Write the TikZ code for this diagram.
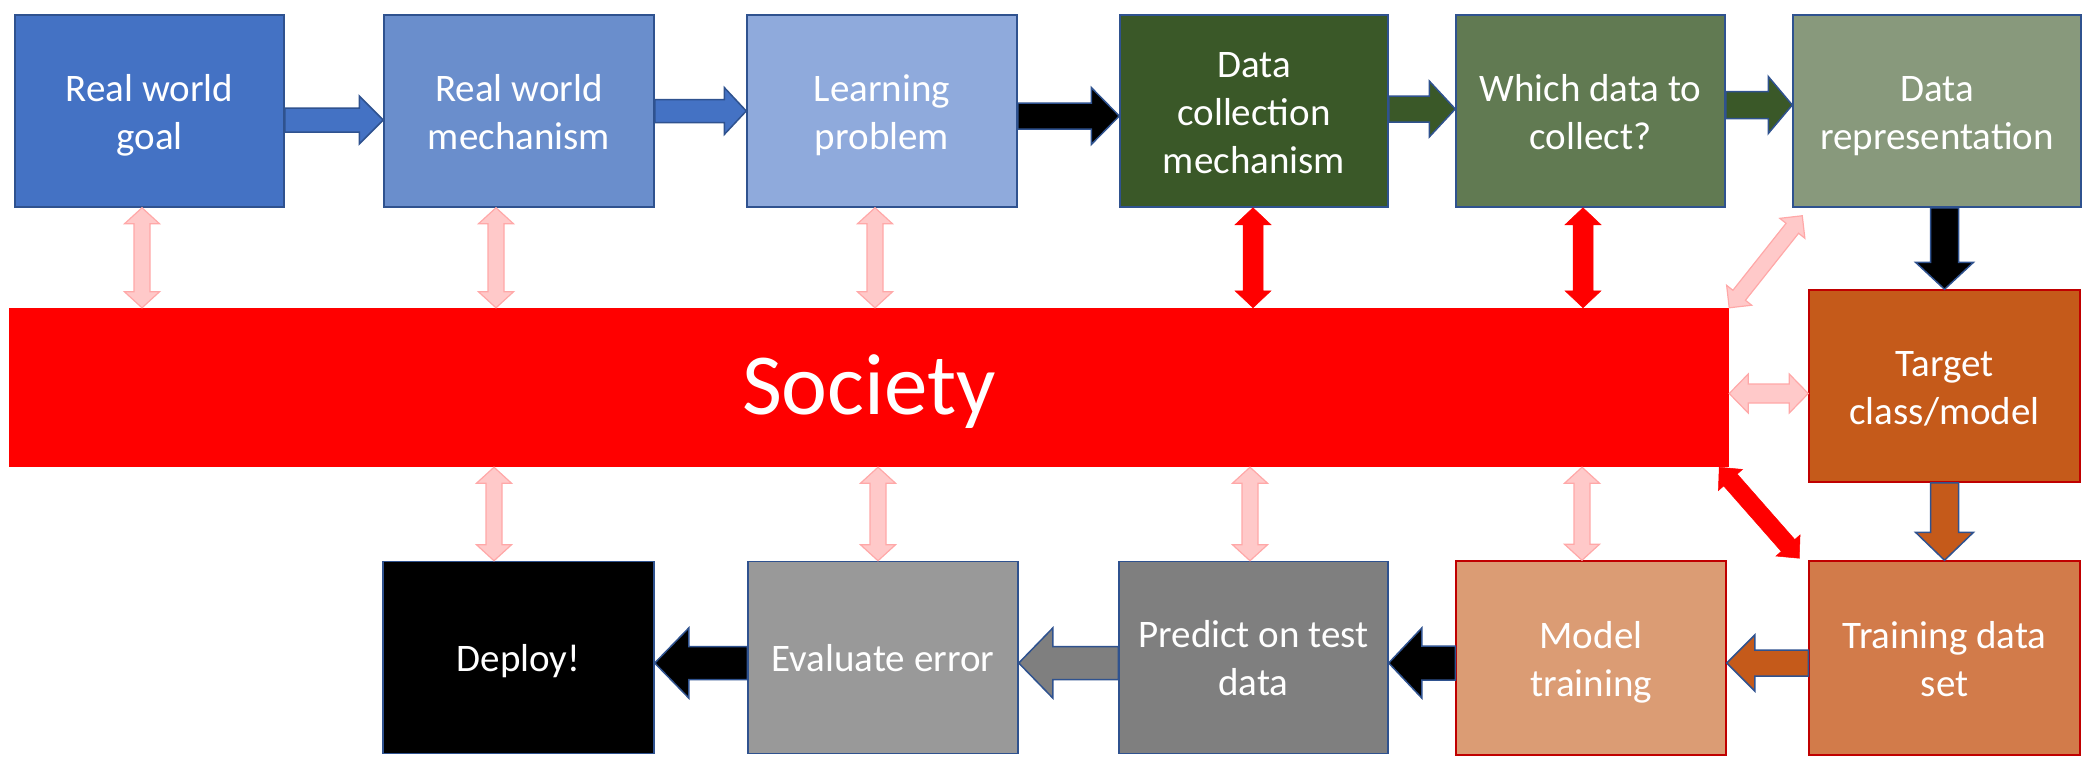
\documentclass[tikz,border=0pt]{standalone}
\usepackage{fontspec}
\setmainfont{Carlito}
\usetikzlibrary{calc}
\definecolor{bblue}{HTML}{2F528F}
\definecolor{bred}{HTML}{C00000}
\definecolor{cA}{HTML}{4472C4}
\definecolor{cB}{HTML}{6A8ECC}
\definecolor{cC}{HTML}{8FAADC}
\definecolor{cD}{HTML}{3A5828}
\definecolor{cE}{HTML}{617A52}
\definecolor{cF}{HTML}{88997C}
\definecolor{cTC}{HTML}{C55A1A}
\definecolor{cTD}{HTML}{D27B4A}
\definecolor{cMT}{HTML}{DB9C74}
\definecolor{cPR}{HTML}{7F7F7F}
\definecolor{cEV}{HTML}{999999}
\definecolor{pinkf}{HTML}{FFC9C9}
\definecolor{pinkd}{HTML}{FFA8A8}
\newcommand\boxfont{\fontsize{39}{48}\selectfont}
\newcommand\ls{\rule[-10pt]{0pt}{48pt}}
\newcommand\blockarr[6]{%
  \coordinate (tH) at ($(#3)!#6!(#2)$);
  \draw[#1] ($(#2)!#4!90:(#3)$) -- ($(tH)!#4!90:(#3)$) -- ($(tH)!#5!90:(#3)$) -- (#3)
    -- ($(tH)!#5!-90:(#3)$) -- ($(tH)!#4!-90:(#3)$) -- ($(#2)!#4!-90:(#3)$) -- cycle;}
\newcommand\dblarr[6]{%
  \coordinate (tA) at ($(#2)!#6!(#3)$);
  \coordinate (tB) at ($(#3)!#6!(#2)$);
  \draw[#1] (#2) -- ($(tA)!#5!90:(#3)$) -- ($(tA)!#4!90:(#3)$) -- ($(tB)!#4!90:(#3)$)
    -- ($(tB)!#5!90:(#3)$) -- (#3) -- ($(tB)!#5!-90:(#3)$) -- ($(tB)!#4!-90:(#3)$)
    -- ($(tA)!#4!-90:(#3)$) -- ($(tA)!#5!-90:(#3)$) -- cycle;}
\tikzset{
  box/.style={draw=bblue, line width=1.5pt, minimum height=192pt, inner sep=0pt,
    align=center, text=white, font=\boxfont},
  obox/.style={box, draw=bred},
  blockstyle/.style={line width=1.5pt, draw=bblue, line join=miter},
  bluearr/.style={blockstyle, fill=cA},
  blackarr/.style={blockstyle, fill=black},
  greenarr/.style={blockstyle, fill=cD},
  brownarr/.style={blockstyle, fill=cTC},
  grayarr/.style={blockstyle, fill=cPR},
  pinkarr/.style={fill=pinkf, draw=pinkd, line width=1.2pt},
  redarr/.style={fill=red, draw=red, line width=0.5pt},
}
\begin{document}
\begin{tikzpicture}[x=1pt, y=-1pt]
\useasboundingbox (0,0) rectangle (2098,764);
% top row
\node[box, fill=cA, minimum width=269pt] (g1) at (149.5,111) {\ls Real world\\\ls goal};
\node[box, fill=cB, minimum width=270pt] (g2) at (519,111) {\ls Real world\\\ls mechanism};
\node[box, fill=cC, minimum width=270pt] (g3) at (882,111) {\ls Learning\\\ls problem};
\node[box, fill=cD, minimum width=268pt] (g4) at (1254,111) {\ls Data\\\ls collection\\\ls mechanism};
\node[box, fill=cE, minimum width=269pt] (g5) at (1590.5,111) {\ls Which data to\\\ls collect?};
\node[box, fill=cF, minimum width=288pt] (g6) at (1937,111) {\ls Data\\\ls representation};
% society
\node[fill=red, minimum width=1720pt, minimum height=159pt, inner sep=0pt, text=white,
  font=\fontsize{87}{100}\selectfont] (soc) at (869,387.5) {\rule[-27pt]{0pt}{107pt}Society};
% right column
\node[obox, fill=cTC, minimum width=271pt] (tc) at (1944.5,386) {\ls Target\\\ls class/model};
\node[obox, fill=cTD, minimum width=271pt, minimum height=194pt] (td) at (1944.5,658) {\ls Training data\\\ls set};
% bottom row
\node[obox, fill=cMT, minimum width=270pt, minimum height=194pt] (mt) at (1591,658) {\ls Model\\\ls training};
\node[box, fill=cPR, minimum width=269pt] (pr) at (1253.5,657.5) {\ls Predict on test\\\ls data};
\node[box, fill=cEV, minimum width=270pt] (ev) at (883,657.5) {\ls Evaluate error};
\node[box, fill=black, minimum width=271pt] (dp) at (518.5,657.5) {\ls Deploy!};
% flow arrows, top
\coordinate (a12s) at ([yshift=-9pt]g1.east);
\coordinate (a12e) at (g2.west |- a12s);
\blockarr{bluearr}{a12s}{a12e}{12pt}{24pt}{24pt}
\coordinate (a23s) at (g2.east);
\coordinate (a23e) at (g3.west |- a23s);
\blockarr{bluearr}{a23s}{a23e}{11.5pt}{23.5pt}{22pt}
\coordinate (a34s) at ([yshift=-5pt]g3.east);
\coordinate (a34e) at (g4.west |- a34s);
\blockarr{blackarr}{a34s}{a34e}{13pt}{28.5pt}{28pt}
\coordinate (a45s) at ([yshift=2pt]g4.east);
\coordinate (a45e) at (g5.west |- a45s);
\blockarr{greenarr}{a45s}{a45e}{13pt}{28pt}{26pt}
\coordinate (a56s) at ([yshift=6pt]g5.east);
\coordinate (a56e) at (g6.west |- a56s);
\blockarr{greenarr}{a56s}{a56e}{13.5pt}{28.5pt}{24pt}
% right column
\coordinate (a6ts) at (g6.south -| tc.north);
\blockarr{blackarr}{a6ts}{tc.north}{14pt}{29pt}{27pt}
\blockarr{brownarr}{tc.south}{td.north}{14pt}{29pt}{28pt}
% bottom flow
\coordinate (atms) at ([yshift=-5pt]td.west);
\coordinate (atme) at (mt.east |- atms);
\blockarr{brownarr}{atms}{atme}{13pt}{28pt}{28pt}
\coordinate (amps) at (mt.west |- atms);
\coordinate (ampe) at (pr.east |- atms);
\blockarr{blackarr}{amps}{ampe}{17pt}{35pt}{33pt}
\coordinate (apes) at (pr.west |- atms);
\coordinate (apee) at (ev.east |- atms);
\blockarr{grayarr}{apes}{apee}{16.5pt}{35pt}{34pt}
\coordinate (aeds) at (ev.west |- atms);
\coordinate (aede) at (dp.east |- atms);
\blockarr{blackarr}{aeds}{aede}{16.5pt}{35pt}{34pt}
% society links, top
\coordinate (p1a) at ([xshift=-7.5pt]g1.south); \coordinate (p1b) at (p1a |- soc.north);
\dblarr{pinkarr}{p1a}{p1b}{8pt}{17.5pt}{16pt}
\coordinate (p2a) at ([xshift=-23pt]g2.south); \coordinate (p2b) at (p2a |- soc.north);
\dblarr{pinkarr}{p2a}{p2b}{8pt}{17.5pt}{16pt}
\coordinate (p3a) at ([xshift=-7pt]g3.south); \coordinate (p3b) at (p3a |- soc.north);
\dblarr{pinkarr}{p3a}{p3b}{8pt}{17.5pt}{16pt}
\coordinate (r4a) at ([xshift=-1pt]g4.south); \coordinate (r4b) at (r4a |- soc.north);
\dblarr{redarr}{r4a}{r4b}{10pt}{18pt}{17pt}
\coordinate (r5a) at ([xshift=-7.5pt]g5.south); \coordinate (r5b) at (r5a |- soc.north);
\dblarr{redarr}{r5a}{r5b}{10pt}{18pt}{17pt}
\coordinate (p6b) at ([xshift=10pt,yshift=-8pt]g6.south west);
\dblarr{pinkarr}{soc.north east}{p6b}{8pt}{16pt}{16pt}
\coordinate (ptca) at ([yshift=-6pt]soc.east); \coordinate (ptcb) at (tc.west |- ptca);
\dblarr{pinkarr}{ptca}{ptcb}{9.5pt}{19.5pt}{19pt}
\coordinate (rtda) at ([xshift=-10pt]soc.south east);
\coordinate (rtdb) at ([xshift=-9pt,yshift=2pt]td.north west);
\dblarr{redarr}{rtda}{rtdb}{9pt}{16pt}{17pt}
% society links, bottom
\coordinate (qda) at ([xshift=-24.5pt]dp.north); \coordinate (qdb) at (qda |- soc.south);
\dblarr{pinkarr}{qdb}{qda}{8pt}{17.5pt}{16pt}
\coordinate (qea) at ([xshift=-5pt]ev.north); \coordinate (qeb) at (qea |- soc.south);
\dblarr{pinkarr}{qeb}{qea}{8pt}{17.5pt}{16pt}
\coordinate (qpa) at ([xshift=-3.5pt]pr.north); \coordinate (qpb) at (qpa |- soc.south);
\dblarr{pinkarr}{qpb}{qpa}{8pt}{17.5pt}{16pt}
\coordinate (qma) at ([xshift=-9pt]mt.north); \coordinate (qmb) at (qma |- soc.south);
\dblarr{pinkarr}{qmb}{qma}{8pt}{17.5pt}{16pt}
\end{tikzpicture}
\end{document}
